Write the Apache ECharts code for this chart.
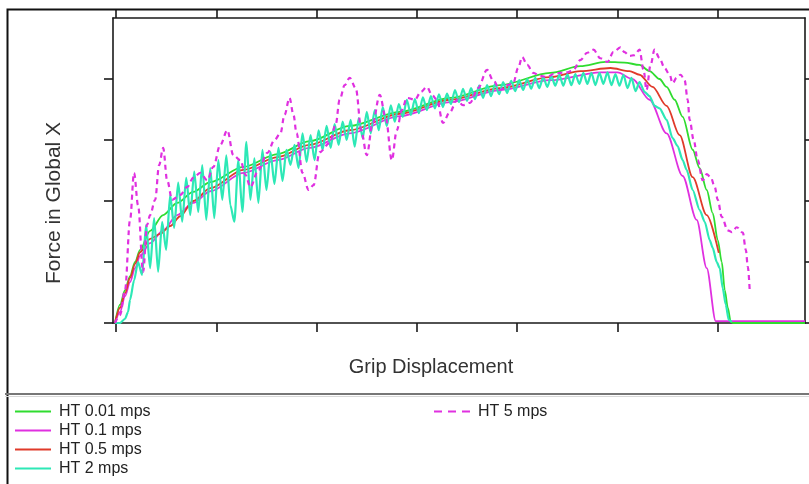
<!DOCTYPE html>
<html>
<head>
<meta charset="utf-8">
<script src="https://cdn.jsdelivr.net/npm/echarts@6/dist/echarts.min.js"></script>
<style>
html,body{margin:0;padding:0;background:#fff;}
#chart{width:809px;height:484px;}
</style>
</head>
<body>
<div id="chart"></div>
<script>
const seriesNames = ['HT 0.01 mps', 'HT 0.1 mps', 'HT 0.5 mps', 'HT 2 mps', 'HT 5 mps'];
const xTicks = [0, 1, 2, 3, 4, 5, 6];
const yTicks = [0, 1, 2, 3, 4];
const xTitle = 'Grip Displacement';
const yTitle = 'Force in Global X';

const green001 = [[-0.01,0],[0.04,0.30],[0.09,0.54],[0.14,0.77],[0.19,1.00],[0.24,1.20],[0.34,1.51],[0.47,1.77],[0.61,1.97],[0.77,2.15],[0.94,2.31],[1.27,2.56],[1.61,2.77],[1.93,2.98],[2.33,3.23],[2.83,3.46],[3.33,3.69],[3.83,3.90],[4.33,4.10],[4.63,4.21],[4.88,4.28],[5.07,4.27],[5.22,4.23],[5.32,4.13],[5.42,4.00],[5.49,3.87],[5.57,3.66],[5.65,3.38],[5.75,2.84],[5.82,2.54],[5.89,2.18],[5.95,1.80],[6.00,1.36],[6.04,1.00],[6.07,0.54],[6.10,0.25],[6.13,0.02],[6.15,0],[6.87,0]];

const magenta01 = [[-0.01,0],[0.04,0.18],[0.09,0.44],[0.14,0.67],[0.19,0.90],[0.24,1.10],[0.34,1.31],[0.47,1.52],[0.61,1.77],[0.77,1.97],[0.94,2.16],[1.27,2.46],[1.61,2.67],[1.93,2.87],[2.33,3.11],[2.83,3.39],[3.33,3.62],[3.83,3.82],[4.33,3.98],[4.83,4.11],[5.00,4.11],[5.15,4.00],[5.32,3.66],[5.49,3.11],[5.65,2.41],[5.79,1.69],[5.89,0.90],[5.98,0.03],[6.87,0.03]];

const red05 = [[-0.01,0],[0.04,0.25],[0.09,0.49],[0.14,0.74],[0.19,0.97],[0.24,1.16],[0.34,1.38],[0.44,1.46],[0.54,1.59],[0.64,1.75],[0.77,2.00],[0.94,2.21],[1.27,2.51],[1.61,2.72],[1.93,2.92],[2.33,3.16],[2.83,3.43],[3.33,3.66],[3.83,3.85],[4.33,4.03],[4.63,4.13],[4.93,4.18],[5.12,4.13],[5.22,4.07],[5.35,3.87],[5.49,3.56],[5.62,3.08],[5.75,2.39],[5.89,1.77],[6.01,1.15]];

const cyan2 = [[-0.01,0],[0.04,0],[0.09,0.07],[0.12,0.18],[0.14,0.38],[0.18,0.70],[0.22,1.00],[0.26,0.79],[0.30,1.61],[0.34,0.90],[0.38,1.72],[0.42,0.84],[0.46,1.66],[0.50,1.20],[0.54,2.10],[0.58,1.56],[0.62,2.30],[0.66,1.66],[0.70,2.38],[0.74,1.77],[0.78,2.48],[0.82,1.82],[0.86,2.59],[0.90,1.69],[0.94,2.54],[0.98,1.72],[1.02,2.67],[1.06,2.02],[1.10,2.75],[1.14,1.93],[1.18,1.66],[1.22,2.67],[1.26,1.82],[1.30,2.97],[1.34,2.02],[1.38,2.70],[1.42,1.97],[1.46,2.84],[1.50,2.18],[1.54,2.80],[1.58,2.28],[1.62,2.87],[1.66,2.33],[1.70,2.84],[1.74,2.59],[1.78,2.92],[1.82,2.54],[1.86,3.11],[1.90,2.64],[1.94,3.08],[1.98,2.67],[2.02,3.16],[2.06,2.84],[2.10,3.23],[2.14,2.87],[2.18,3.26],[2.22,2.92],[2.26,3.30],[2.30,3.00],[2.34,3.33],[2.38,2.89],[2.42,3.36],[2.46,3.03],[2.50,3.46],[2.54,3.11],[2.58,3.49],[2.62,3.16],[2.66,3.54],[2.70,3.23],[2.74,3.57],[2.78,3.30],[2.82,3.59],[2.86,3.38],[2.90,3.66],[2.94,3.41],[2.98,3.67],[3.02,3.44],[3.06,3.70],[3.10,3.49],[3.14,3.72],[3.18,3.52],[3.22,3.75],[3.26,3.54],[3.30,3.76],[3.34,3.59],[3.38,3.82],[3.42,3.62],[3.46,3.84],[3.50,3.64],[3.54,3.85],[3.58,3.67],[3.62,3.89],[3.66,3.69],[3.70,3.90],[3.74,3.72],[3.78,3.92],[3.82,3.75],[3.86,3.95],[3.90,3.77],[3.94,3.97],[3.98,3.80],[4.02,3.98],[4.06,3.82],[4.10,4.00],[4.14,3.84],[4.18,4.02],[4.22,3.85],[4.26,4.03],[4.30,3.87],[4.34,4.05],[4.38,3.89],[4.42,4.07],[4.46,3.89],[4.50,4.08],[4.54,3.90],[4.58,4.08],[4.62,3.92],[4.66,4.10],[4.70,3.92],[4.74,4.10],[4.78,3.90],[4.82,4.10],[4.86,3.92],[4.90,4.11],[4.94,3.90],[4.98,4.08],[5.02,3.89],[5.06,4.07],[5.10,3.85],[5.14,4.02],[5.18,3.80],[5.22,3.95],[5.27,3.79],[5.32,3.72],[5.37,3.56],[5.42,3.52],[5.49,3.33],[5.55,3.03],[5.60,2.90],[5.65,2.67],[5.69,2.51],[5.75,2.18],[5.82,1.85],[5.87,1.66],[5.92,1.36],[5.95,1.23],[5.99,1.00],[6.02,0.90],[6.05,0.57],[6.08,0.30],[6.11,0.05],[6.14,0.02]];

const magenta5 = [[-0.01,0],[0.04,0.13],[0.09,0.54],[0.14,1.69],[0.18,2.46],[0.22,1.93],[0.27,0.84],[0.31,1.61],[0.34,1.77],[0.39,2.02],[0.43,2.59],[0.47,2.87],[0.51,2.34],[0.56,2.02],[0.64,2.10],[0.71,2.23],[0.77,2.38],[0.84,2.46],[0.91,2.34],[0.97,2.56],[1.04,2.92],[1.11,3.16],[1.17,2.75],[1.24,2.67],[1.29,2.43],[1.34,2.23],[1.42,2.51],[1.51,2.79],[1.58,3.00],[1.64,3.11],[1.68,3.41],[1.73,3.69],[1.77,3.41],[1.80,3.11],[1.86,2.46],[1.92,2.18],[1.97,2.26],[2.03,2.80],[2.13,2.95],[2.19,3.25],[2.23,3.66],[2.28,3.90],[2.33,4.02],[2.39,3.85],[2.45,3.11],[2.50,2.75],[2.56,3.28],[2.63,3.74],[2.69,3.36],[2.75,2.67],[2.80,3.16],[2.85,3.49],[2.90,3.69],[2.98,3.66],[3.04,3.79],[3.10,3.87],[3.15,3.74],[3.20,3.66],[3.26,3.28],[3.33,3.46],[3.40,3.66],[3.46,3.57],[3.53,3.61],[3.61,3.85],[3.70,4.15],[3.76,3.98],[3.83,3.82],[3.90,3.90],[3.96,3.93],[4.01,4.18],[4.05,4.36],[4.10,4.23],[4.16,4.10],[4.23,4.05],[4.30,4.03],[4.36,4.08],[4.43,4.10],[4.50,4.11],[4.56,4.15],[4.63,4.31],[4.70,4.43],[4.76,4.48],[4.83,4.34],[4.90,4.28],[4.96,4.44],[5.03,4.52],[5.07,4.44],[5.12,4.38],[5.17,4.39],[5.22,4.48],[5.26,4.15],[5.29,3.82],[5.33,4.23],[5.37,4.48],[5.42,4.34],[5.47,4.18],[5.52,4.07],[5.55,3.93],[5.59,4.02],[5.63,4.07],[5.67,3.98],[5.70,3.66],[5.72,3.33],[5.76,3.00],[5.80,2.67],[5.85,2.34],[5.89,2.44],[5.93,2.39],[5.97,2.23],[6.00,2.02],[6.04,1.74],[6.10,1.52],[6.14,1.49],[6.19,1.57],[6.25,1.48],[6.28,1.20],[6.30,0.92],[6.32,0.49]];

const FONT = '"Liberation Sans", Arial, Helvetica, sans-serif';
const chart = echarts.init(document.getElementById('chart'), null, {renderer: 'canvas'});

function axisLine() { return {show: true, onZero: false, lineStyle: {color: '#1a1a1a', width: 1.6}}; }
function xAx(pos) {
  return {
    type: 'value', position: pos, min: -0.03, max: 6.87,
    axisLine: axisLine(),
    axisTick: {show: true, inside: false, length: 9, customValues: xTicks, lineStyle: {color: '#1a1a1a', width: 1.6}},
    axisLabel: {show: false}, splitLine: {show: false}
  };
}
function yAx(pos, len) {
  return {
    type: 'value', position: pos, min: 0, max: 5,
    axisLine: axisLine(),
    axisTick: {show: true, inside: false, length: len, customValues: yTicks, lineStyle: {color: '#1a1a1a', width: 1.6}},
    axisLabel: {show: false}, splitLine: {show: false}
  };
}

function lineSeries(name, data, color, width, extra) {
  return Object.assign({
    name: name, type: 'line', data: data, xAxisIndex: 0, yAxisIndex: 0,
    symbol: 'none', showSymbol: false, smooth: 0.3, smoothMonotone: 'x',
    lineStyle: {color: color, width: width}, itemStyle: {color: color},
    animation: false, clip: true
  }, extra || {});
}

const legendText = {fontFamily: FONT, fontSize: 16, color: '#222', lineHeight: 19, padding: [0, 0, 0, 3]};
const legendCommon = {orient: 'vertical', top: 402, padding: 0, itemWidth: 36, itemHeight: 10, itemGap: 0,
  textStyle: legendText, itemStyle: {opacity: 0}};

chart.setOption({
  backgroundColor: '#ffffff',
  animation: false,
  grid: {left: 113, right: 4, top: 18, bottom: 161, containLabel: false},
  xAxis: [xAx('bottom'), xAx('top')],
  yAxis: [yAx('left', 9), yAx('right', 5)],
  legend: [
    Object.assign({data: seriesNames.slice(0, 4), left: 14, height: 82, lineStyle: {width: 2}}, legendCommon),
    Object.assign({data: [seriesNames[4]], left: 433, lineStyle: {width: 2, type: [8, 6]}}, legendCommon)
  ],
  series: [
    lineSeries(seriesNames[0], green001, '#2fdc2f', 1.8),
    lineSeries(seriesNames[1], magenta01, '#e030e0', 1.8),
    lineSeries(seriesNames[2], red05, '#e03a2a', 1.8),
    lineSeries(seriesNames[3], cyan2, '#2de8b6', 2.2, {smooth: 0.25}),
    lineSeries(seriesNames[4], magenta5, '#e030e0', 2.2, {smooth: 0.35, lineStyle: {color: '#e030e0', width: 2.2, type: [5, 4]}})
  ],
  graphic: [
    {type: 'rect', left: 5, top: 7, shape: {x: 0, y: 0, width: 820, height: 500}, style: {fill: 'none', stroke: '#111', lineWidth: 2}, silent: true, z: 100},
    {type: 'line', shape: {x1: 5, y1: 394, x2: 809, y2: 394}, style: {stroke: '#777', lineWidth: 2}, silent: true, z: 100},
    {type: 'line', shape: {x1: 5, y1: 396.5, x2: 809, y2: 396.5}, style: {stroke: '#d8d8d8', lineWidth: 1}, silent: true, z: 100},
    {type: 'text', x: 431, y: 367, style: {text: xTitle, font: '20px ' + FONT, fill: '#333', textAlign: 'center', textVerticalAlign: 'middle'}, silent: true, z: 100},
    {type: 'text', x: 54, y: 203, rotation: Math.PI / 2, style: {text: yTitle, font: '21px ' + FONT, fill: '#333', textAlign: 'center', textVerticalAlign: 'middle'}, silent: true, z: 100}
  ]
});
</script>
</body>
</html>
